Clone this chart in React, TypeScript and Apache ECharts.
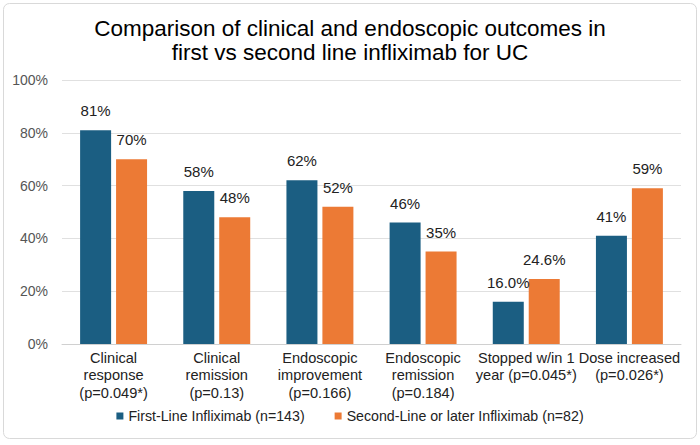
import React, { useEffect, useRef } from "react";
import * as echarts from "echarts";

const categories = [
  "Clinical\nresponse\n(p=0.049*)",
  "Clinical\nremission\n(p=0.13)",
  "Endoscopic\nimprovement\n(p=0.166)",
  "Endoscopic\nremission\n(p=0.184)",
  "Stopped w/in 1\nyear (p=0.045*)",
  "Dose increased\n(p=0.026*)",
];
const firstLine = [81, 58, 62, 46, 16.0, 41];
const firstLabels = ["81%", "58%", "62%", "46%", "16.0%", "41%"];
const secondLine = [70, 48, 52, 35, 24.6, 59];
const secondLabels = ["70%", "48%", "52%", "35%", "24.6%", "59%"];
const seriesNames = ["First-Line Infliximab (n=143)", "Second-Line or later Infliximab (n=82)"];
const titleText = "Comparison of clinical and endoscopic outcomes in\nfirst vs second line infliximab for UC";

const FONT = "'Liberation Sans', Arial, Helvetica, sans-serif";

export default function App() {
  const ref = useRef<HTMLDivElement>(null);
  useEffect(() => {
    document.body.style.margin = "0";
    if (!ref.current) return;
    const chart = echarts.init(ref.current, null, { renderer: "svg" });
    chart.setOption({
      animation: false,
      textStyle: { fontFamily: FONT },
      graphic: [
        {
          type: "rect",
          shape: { x: 3.5, y: 3.5, width: 693, height: 435, r: 6 },
          style: { fill: "none", stroke: "#d9d9d9", lineWidth: 1 },
          silent: true,
        },
      ],
      title: {
        text: titleText,
        left: "center",
        top: 12,
        textStyle: { fontFamily: FONT, fontSize: 22.5, fontWeight: "normal", color: "#000", lineHeight: 23.5 },
      },
      legend: {
        bottom: 17,
        left: "center",
        icon: "rect",
        itemWidth: 7,
        itemHeight: 7,
        itemGap: 30,
        textStyle: { fontFamily: FONT, fontSize: 14.2, color: "#222" },
        data: seriesNames,
      },
      grid: { left: 62, right: 19, top: 80, bottom: 101 },
      xAxis: {
        type: "category",
        data: categories,
        axisTick: { show: false },
        axisLine: { lineStyle: { color: "#d0d0d0" } },
        axisLabel: { fontFamily: FONT, fontSize: 14.6, color: "#222", lineHeight: 17.5, margin: 5, interval: 0 },
      },
      yAxis: {
        type: "value",
        min: 0,
        max: 100,
        interval: 20,
        axisLabel: { formatter: "{value}%", fontFamily: FONT, fontSize: 14, color: "#555", margin: 14 },
        splitLine: { lineStyle: { color: "#e0e0e0" } },
      },
      series: [
        {
          name: seriesNames[0],
          type: "bar",
          data: firstLine,
          barWidth: 31,
          barGap: "16%",
          itemStyle: { color: "#1b5e82" },
          label: {
            show: true,
            position: "top",
            distance: 12,
            fontFamily: FONT,
            fontSize: 15,
            color: "#222",
            formatter: (p: any) => firstLabels[p.dataIndex],
          },
        },
        {
          name: seriesNames[1],
          type: "bar",
          data: secondLine,
          barWidth: 31,
          barGap: "16%",
          itemStyle: { color: "#ec7a35" },
          label: {
            show: true,
            position: "top",
            distance: 12,
            fontFamily: FONT,
            fontSize: 15,
            color: "#222",
            formatter: (p: any) => secondLabels[p.dataIndex],
          },
        },
      ],
    });
    return () => chart.dispose();
  }, []);
  return <div ref={ref} style={{ width: 700, height: 445 }} />;
}
